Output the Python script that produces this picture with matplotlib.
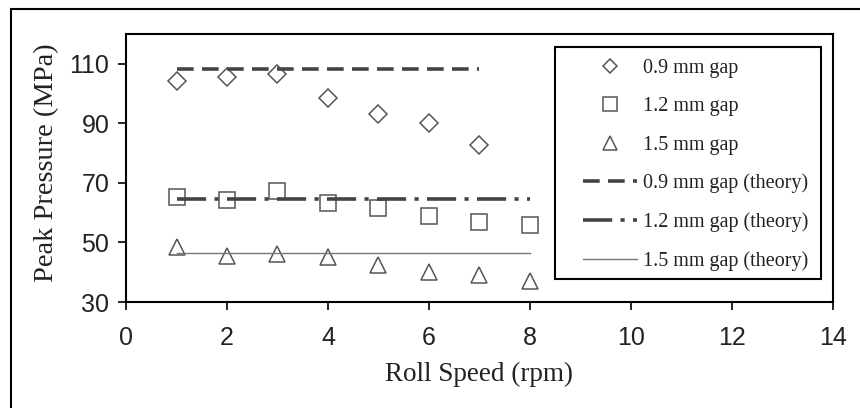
import numpy as np
import matplotlib
matplotlib.use("Agg")
import matplotlib.pyplot as plt
from matplotlib.patches import Rectangle

# Datos
speed_09 = [1, 2, 3, 4, 5, 6, 7]
speed = [1, 2, 3, 4, 5, 6, 7, 8]
gap_09 = [104.1, 105.5, 106.6, 98.5, 93.2, 90.2, 82.8]
gap_12 = [65.3, 64.1, 67.3, 63.1, 61.6, 59.0, 56.7, 55.8]
gap_15 = [48.4, 45.3, 46.1, 45.0, 42.5, 40.2, 39.0, 37.2]
theory_09 = 108.3
theory_12 = 64.5
theory_15 = 46.4
theory_09_x = [1, 7]
theory_x = [1, 8]

plt.rcParams['lines.scale_dashes'] = False
W, H = 860, 408
fig = plt.figure(figsize=(W / 100, H / 100), dpi=100)
ax = fig.add_axes([126 / W, (H - 302) / H, (833 - 126) / W, (302 - 34) / H])

mk_col = '#555555'
ln_col = '#444444'
ax.plot(speed_09, gap_09, 'D', ms=9, mfc='none', mec=mk_col, mew=1.1, label='0.9 mm gap')
ax.plot(speed, gap_12, 's', ms=12, mfc='none', mec=mk_col, mew=1.1, label='1.2 mm gap')
ax.plot(speed, gap_15, '^', ms=12, mfc='none', mec=mk_col, mew=1.1, label='1.5 mm gap')
ax.plot(theory_09_x, [theory_09] * 2, color=ln_col, lw=2.6, dashes=(12, 6),
        dash_capstyle='butt', label='0.9 mm gap (theory)')
ax.plot(theory_x, [theory_12] * 2, color=ln_col, lw=2.6, dashes=(21, 6, 3, 6),
        dash_capstyle='butt', label='1.2 mm gap (theory)')
ax.plot(theory_x, [theory_15] * 2, color='#777777', lw=1.0, label='1.5 mm gap (theory)')

ax.set_xlim(0, 14)
ax.set_ylim(30, 120)
ax.set_xticks(np.arange(0, 15, 2))
ax.set_yticks([30, 50, 70, 90, 110])
for s in ax.spines.values():
    s.set_linewidth(1.5)
    s.set_color('black')
ax.tick_params(direction='out', length=6, width=1.2, labelsize=18, pad=6)
ax.tick_params(axis='x', pad=11)
for t in ax.get_xticklabels() + ax.get_yticklabels():
    t.set_fontfamily('Liberation Sans')
    t.set_color('#222222')

ax.set_xlabel('Roll Speed (rpm)', fontfamily='Liberation Serif', fontsize=19.5, color='#222222')
ax.set_ylabel('Peak Pressure (MPa)', fontfamily='Liberation Serif', fontsize=20.5, color='#222222')
ax.xaxis.set_label_coords(0.5, -0.225)
ax.yaxis.set_label_coords(-0.094, 0.52)

# leyenda sin marco + marco aparte
leg = ax.legend(loc='upper left', bbox_to_anchor=(583 / W, 1 - 59 / H), bbox_transform=fig.transFigure,
                frameon=False, borderpad=0, borderaxespad=0, handlelength=2.7, handletextpad=0.3,
                labelspacing=0.95, markerscale=0.8,
                prop={'family': 'Liberation Serif', 'size': 14.5})
for t in leg.get_texts():
    t.set_color('#222222')
fig.patches.append(Rectangle((555 / W, 1 - 279 / H), (821 - 555) / W, (279 - 47) / H,
                             transform=fig.transFigure, fill=False, lw=1.5, ec='black'))
# marco exterior
fig.patches.append(Rectangle((11 / W, -0.2), 2, 1.2 - 9 / H, transform=fig.transFigure,
                             fill=False, lw=1.5, ec='black'))

fig.savefig('out.png', dpi=100)
